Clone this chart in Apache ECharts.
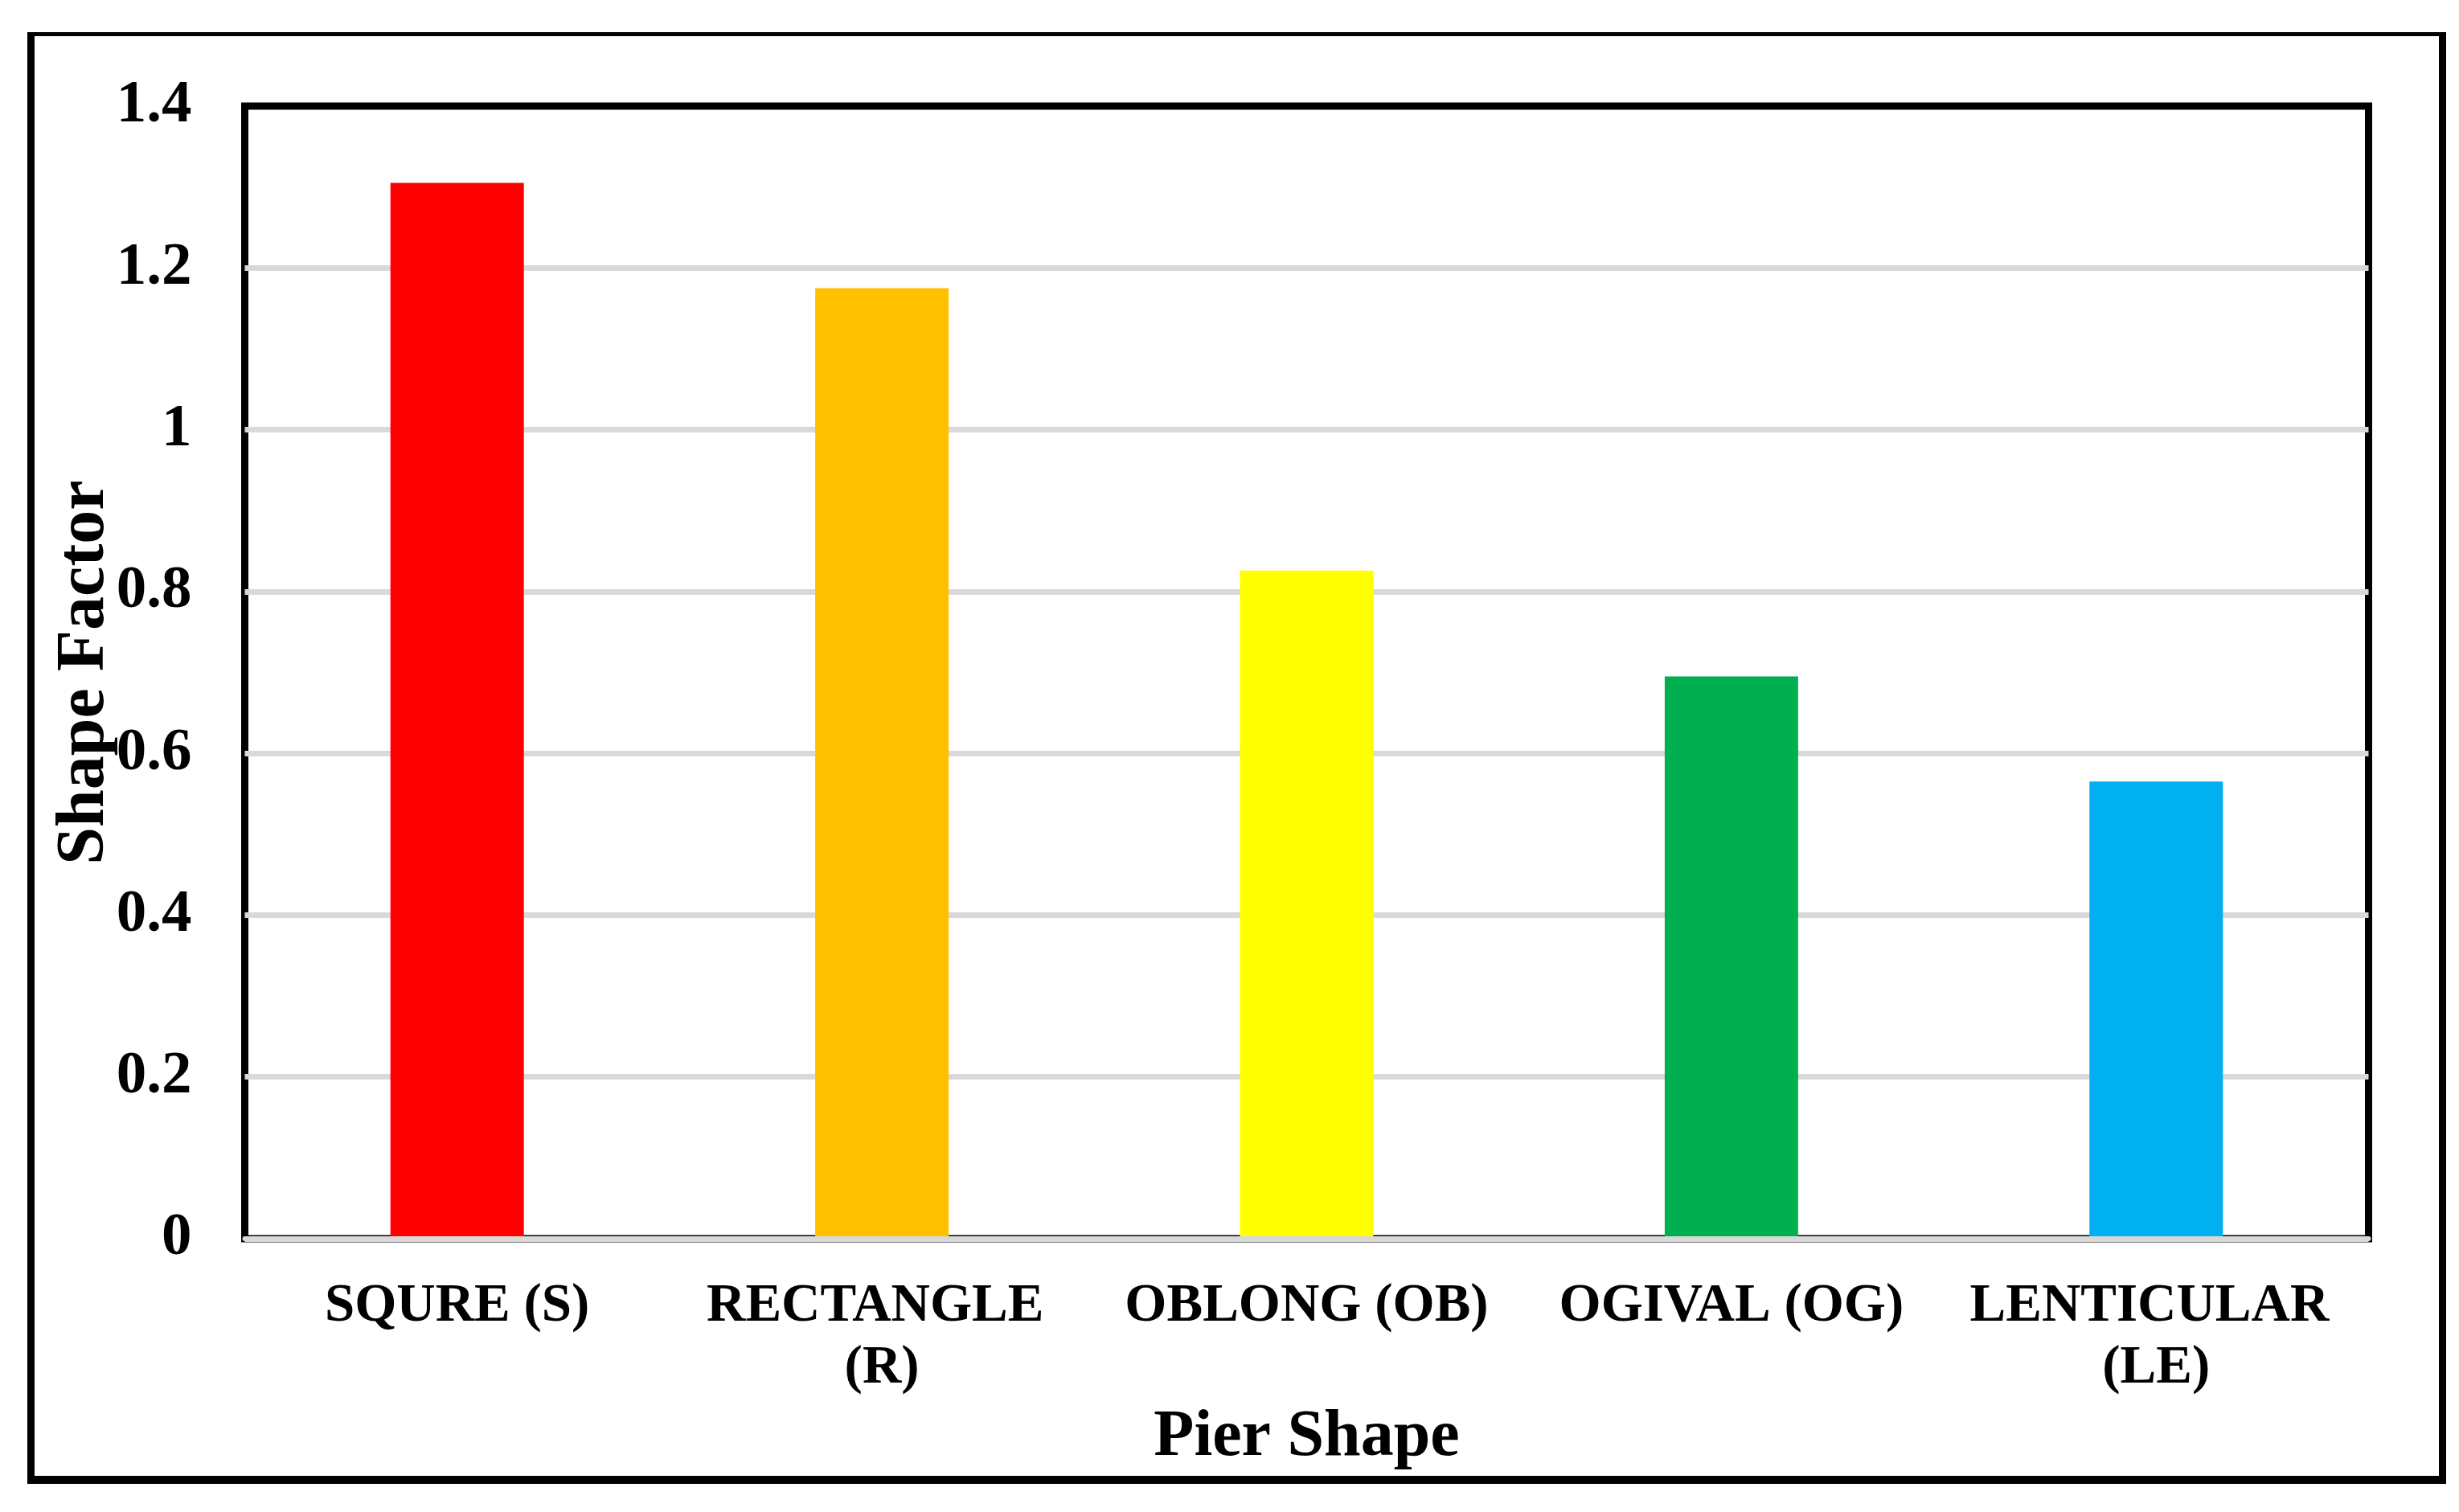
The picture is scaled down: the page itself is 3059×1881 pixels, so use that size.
<!DOCTYPE html>
<html>
<head>
<meta charset="utf-8">
<script src="https://cdn.jsdelivr.net/npm/echarts@6/dist/echarts.min.js"></script>
<style>
html,body{margin:0;padding:0;background:#fff;}
#chart{width:3059px;height:1881px;}
</style>
</head>
<body>
<div id="chart"></div>
<script>
const categories = ['SQURE (S)', 'RECTANGLE (R)', 'OBLONG (OB)', 'OGIVAL (OG)', 'LENTICULAR (LE)'];
const shapeFactor = [1.305, 1.175, 0.826, 0.695, 0.565];
const barColors = ['#FF0000', '#FFC000', '#FFFF00', '#00B050', '#00B0F0'];
const xTitle = 'Pier Shape';
const yTitle = 'Shape Factor';

const FONT = '"Liberation Serif", "Times New Roman", serif';
const chart = echarts.init(document.getElementById('chart'), null, {renderer: 'canvas'});

chart.setOption({
  animation: false,
  backgroundColor: '#ffffff',
  grid: {
    left: 304.5, top: 132, width: 2642, height: 1409,
    show: true, borderColor: '#000000', borderWidth: 9, backgroundColor: 'transparent'
  },
  xAxis: {
    type: 'category',
    data: categories,
    z: 10,
    axisLine: {show: true, lineStyle: {color: '#D9D9D9', width: 6}},
    axisTick: {show: false},
    axisLabel: {
      color: '#000', fontFamily: FONT, fontWeight: 'bold', fontSize: 67,
      lineHeight: 77, margin: 46, width: 500, overflow: 'break', interval: 0
    },
    name: xTitle,
    nameLocation: 'middle',
    nameGap: 207,
    nameMoveOverlap: false,
    nameTextStyle: {color: '#000', fontFamily: FONT, fontWeight: 'bold', fontSize: 82}
  },
  yAxis: {
    type: 'value',
    min: 0, max: 1.4, interval: 0.2,
    axisLine: {show: false},
    axisTick: {show: false},
    splitLine: {show: true, showMaxLine: false, lineStyle: {color: '#D9D9D9', width: 7}},
    axisLabel: {color: '#000', fontFamily: FONT, fontWeight: 'bold', fontSize: 75, margin: 66},
    name: yTitle,
    nameLocation: 'middle',
    nameRotate: 90,
    nameGap: 156,
    nameMoveOverlap: false,
    nameTextStyle: {color: '#000', fontFamily: FONT, fontWeight: 'bold', fontSize: 84}
  },
  series: [{
    type: 'bar',
    data: shapeFactor.map((v, i) => ({value: v, itemStyle: {color: barColors[i]}})),
    barWidth: 166
  }],
  graphic: [
    {type: 'rect', shape: {x: 34, y: 40, width: 9, height: 1806}, style: {fill: '#000'}},
    {type: 'rect', shape: {x: 34, y: 40, width: 3009, height: 5}, style: {fill: '#000'}},
    {type: 'rect', shape: {x: 3034, y: 40, width: 9, height: 1806}, style: {fill: '#000'}},
    {type: 'rect', shape: {x: 34, y: 1836, width: 3009, height: 10}, style: {fill: '#000'}}
  ]
});
</script>
</body>
</html>
